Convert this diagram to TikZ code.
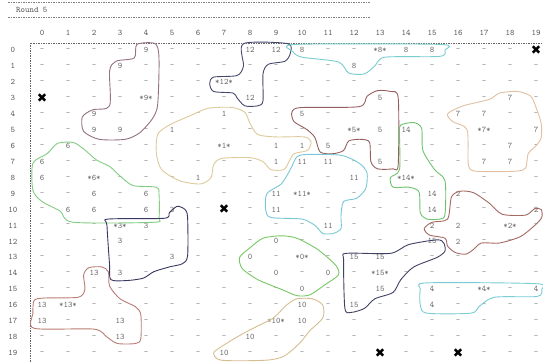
\documentclass[tikz,border=0pt]{standalone}
\usepackage{fontspec}
\newfontfamily\symfont{DejaVu Sans}
\definecolor{numgray}{RGB}{105, 105, 105}
\definecolor{rg9}{RGB}{150, 112, 132}
\definecolor{rg12}{RGB}{70, 72, 110}
\definecolor{rg8}{RGB}{120, 205, 205}
\definecolor{rg5}{RGB}{150, 95, 95}
\definecolor{rg1}{RGB}{222, 202, 155}
\definecolor{rg7}{RGB}{226, 192, 162}
\definecolor{rg14}{RGB}{110, 196, 110}
\definecolor{rg11}{RGB}{120, 200, 215}
\definecolor{rg6}{RGB}{130, 205, 130}
\definecolor{rg3}{RGB}{55, 55, 95}
\definecolor{rg2}{RGB}{165, 105, 100}
\definecolor{rg15}{RGB}{65, 65, 100}
\definecolor{rg4}{RGB}{120, 205, 215}
\definecolor{rg0}{RGB}{120, 200, 100}
\definecolor{rg13}{RGB}{185, 125, 115}
\definecolor{rg10}{RGB}{215, 190, 145}
\tikzset{
  cell/.style={font=\ttfamily\fontsize{8.5}{9}\selectfont, text=numgray, inner sep=0pt},
  axislbl/.style={cell, text=black!65},
  rule/.style={black!50, line width=0.6pt, dash pattern=on 1.5pt off 1pt},
  blob/.style={line width=0.9pt},
}
\def\crossmark{x}
\def\dashmark{-}
\newcommand\cellval[1]{\edef\celltmp{#1}%
  \ifx\celltmp\crossmark\textcolor{black}{\symfont\fontsize{12.5}{12}\selectfont ✖}%
  \else\ifx\celltmp\dashmark\textcolor{black!45}{\textendash}\else#1\fi\fi}
\newcommand\blob[2]{\draw[blob,#1] plot[smooth cycle, tension=0.45] coordinates {#2};}

\begin{document}
\begin{tikzpicture}[x=1pt, y=-1pt]
  \useasboundingbox[fill=white] (0,0) rectangle (543,363);
  % header
  \draw[rule] (8,2) -- (370,2);
  \draw[rule] (8,17) -- (370,17);
  \node[axislbl, anchor=west] (round) at (16,10) {Round 5};
  \begin{scope}[shift={(42,50)}, x=26pt, y=-15.95pt]
    \draw[rule, black!60] (-0.44,-0.44) -- (19.6,-0.44);
    \draw[rule, black!60] (-0.44,-0.44) -- (-0.44,19.8);
    \foreach \c in {0,...,19} \node[axislbl] (col-\c) at (\c,-1.07) {\c};
    \foreach \r in {0,...,19} \node[axislbl] (row-\r) at (-1.12,\r) {\r};
    % cell values
    \foreach \r/\rowvals in {
      0/{-,-,-,-,9,-,-,-,12,12,8,-,-,*8*,8,8,-,-,-,x},
      1/{-,-,-,9,-,-,-,-,-,-,-,-,8,-,-,-,-,-,-,-},
      2/{-,-,-,-,-,-,-,*12*,-,-,-,-,-,-,-,-,-,-,-,-},
      3/{x,-,-,-,*9*,-,-,-,12,-,-,-,-,5,-,-,-,-,7,-},
      4/{-,-,9,-,-,-,-,1,-,-,5,-,-,-,-,-,7,7,-,-},
      5/{-,-,9,9,-,1,-,-,-,-,-,-,*5*,5,14,-,-,*7*,-,7},
      6/{-,6,-,-,-,-,-,*1*,-,1,1,5,-,-,-,-,-,-,7,-},
      7/{6,-,-,-,-,-,-,-,-,1,11,11,-,5,-,-,-,7,7,-},
      8/{6,-,*6*,-,-,-,1,-,-,-,-,-,11,-,*14*,-,-,-,-,-},
      9/{-,-,6,-,6,-,-,-,-,11,*11*,-,-,-,-,14,2,-,-,-},
      10/{-,6,6,-,6,3,-,x,-,11,-,-,-,-,-,14,-,-,-,2},
      11/{-,-,-,*3*,3,-,-,-,-,-,-,11,-,-,-,2,2,-,*2*,-},
      12/{-,-,-,3,-,-,-,-,-,0,-,-,-,-,-,15,2,-,-,-},
      13/{-,-,-,-,-,3,-,-,0,-,*0*,-,15,15,-,-,-,-,-,-},
      14/{-,-,13,3,-,-,-,-,-,0,-,0,-,*15*,-,-,-,-,-,-},
      15/{-,-,-,-,-,-,-,-,-,-,0,-,-,15,-,4,-,*4*,-,4},
      16/{13,*13*,-,-,-,-,-,-,-,-,10,-,15,-,-,4,-,-,-,-},
      17/{13,-,-,13,-,-,-,-,-,*10*,10,-,-,-,-,-,-,-,-,-},
      18/{-,-,-,13,-,-,-,-,10,-,-,-,-,-,-,-,-,-,-,-},
      19/{-,-,-,-,-,-,-,10,-,-,-,-,-,x,-,-,x,-,-,-}}
      \foreach \v [count=\c from 0] in \rowvals
        \node[cell] (c-\r-\c) at (\c,\r) {\cellval{\v}};
    % cluster outlines
    \blob{rg9}{(3.65,-0.35) (4.35,-0.4) (4.5,0.5) (4.45,3.4) (4.25,4.3) (3.75,5.2) (3.2,5.6) (2.2,5.6) (1.6,5.1) (1.55,4.2) (1.95,3.75) (2.6,3.5) (2.6,1.3) (2.85,0.7) (3.55,0.5)}
    \blob{rg12}{(7.75,-0.4) (9.45,-0.4) (9.55,0.2) (9.35,0.7) (8.7,0.9) (8.5,1.5) (8.5,3.2) (8.3,3.5) (7.8,3.5) (7.5,3.0) (7.35,2.7) (6.6,2.6) (6.45,2.1) (6.6,1.7) (7.5,1.6) (7.75,1.0)}
    \blob{rg8}{(9.75,-0.35) (15.3,-0.35) (15.5,0.0) (15.3,0.4) (13.2,0.45) (12.8,1.0) (12.4,1.5) (11.8,1.45) (11.4,0.75) (10.0,0.45) (9.65,0.1)}
    \blob{rg5}{(9.7,3.7) (10.1,3.6) (12.2,3.55) (12.5,2.9) (12.9,2.55) (13.4,2.6) (13.7,3.0) (13.7,7.2) (13.5,7.45) (12.9,7.45) (12.65,7.0) (12.6,5.8) (12.3,5.6) (11.8,5.7) (11.6,6.3) (11.2,6.5) (10.7,6.4) (10.5,5.5) (10.2,5.0) (9.7,4.5) (9.6,4.0)}
    \blob{rg1}{(6.4,3.65) (7.3,3.6) (7.8,3.9) (8.0,4.6) (8.3,5.3) (9.0,5.45) (10.1,5.45) (10.35,5.8) (10.2,6.3) (9.7,6.5) (9.5,7.0) (9.3,7.5) (8.8,7.5) (8.5,7.0) (8.0,6.75) (6.9,6.8) (6.6,7.2) (6.5,8.0) (6.1,8.4) (5.3,8.2) (4.6,7.5) (4.4,6.5) (4.45,5.3) (4.9,4.7) (5.8,4.05)}
    \blob{rg7}{(15.6,4.0) (16.2,3.5) (17.2,3.1) (17.6,2.7) (18.3,2.6) (18.8,2.9) (19.0,3.6) (19.2,4.6) (19.2,5.5) (19.0,6.0) (18.7,6.5) (18.6,7.4) (18.2,7.6) (16.7,7.6) (16.4,7.2) (16.35,5.0) (15.8,4.5)}
    \blob{rg14}{(13.8,4.7) (14.3,4.55) (14.6,4.9) (14.65,6.3) (15.1,7.5) (15.5,8.2) (15.5,10.3) (15.3,10.6) (14.8,10.6) (14.55,10.2) (14.5,8.9) (14.1,8.6) (13.5,8.6) (13.4,8.0) (13.75,7.5) (13.75,5.2)}
    \blob{rg11}{(9.8,6.7) (10.2,6.55) (11.5,6.6) (12.2,7.1) (12.5,7.7) (12.45,8.7) (12.1,9.3) (11.6,9.5) (11.5,10.4) (11.5,11.2) (11.2,11.5) (10.8,11.5) (10.5,11.0) (10.0,10.6) (8.8,10.5) (8.6,10.0) (8.65,9.0) (9.2,8.4) (9.55,7.5)}
    \blob{rg6}{(0.6,5.85) (1.2,5.8) (1.6,6.2) (2.1,6.9) (2.6,7.3) (3.0,7.9) (3.5,8.5) (4.4,8.6) (4.5,9.0) (4.5,10.5) (4.3,10.8) (1.2,10.8) (0.7,10.1) (0.0,9.5) (-0.35,8.8) (-0.35,7.1) (0.2,6.5)}
    \blob{rg3}{(2.55,10.6) (4.7,10.55) (4.9,10.2) (5.2,9.8) (5.5,10.0) (5.6,10.5) (5.6,12.9) (5.4,13.4) (4.9,13.6) (4.3,13.9) (3.9,14.3) (3.3,14.45) (2.65,14.4) (2.6,13.5) (2.5,11.0)}
    \blob{rg2}{(15.75,9.2) (16.1,8.85) (16.6,8.95) (17.2,9.6) (17.7,10.3) (18.6,10.35) (18.95,9.95) (19.2,10.0) (19.22,10.5) (18.95,11.0) (18.4,11.7) (17.6,12.1) (16.9,12.1) (16.6,12.5) (16.3,12.8) (15.9,12.7) (15.6,12.3) (15.5,11.8) (14.9,11.6) (14.7,11.2) (15.0,10.8) (15.6,10.6)}
    \blob{rg15}{(11.7,12.75) (13.4,12.75) (14.1,12.2) (15.2,11.9) (15.45,12.1) (15.5,12.6) (15.2,13.0) (14.3,13.6) (13.8,14.4) (13.5,15.2) (12.8,15.6) (12.4,16.2) (11.9,16.45) (11.65,16.2) (11.6,13.2)}
    \blob{rg4}{(14.8,14.6) (19.0,14.65) (19.22,15.0) (19.05,15.45) (17.4,15.5) (16.8,16.1) (16.5,16.5) (14.8,16.5) (14.55,16.0) (14.55,15.0)}
    \blob{rg0}{(8.0,12.4) (8.5,11.8) (9.2,11.65) (9.8,11.8) (10.6,12.5) (11.3,13.5) (11.4,14.1) (10.9,14.7) (10.3,15.35) (9.8,15.4) (9.2,15.0) (8.3,14.4) (7.7,13.7) (7.6,13.0)}
    \blob{rg13}{(1.8,13.65) (2.3,13.6) (2.55,13.9) (2.6,14.8) (3.0,15.6) (3.6,16.1) (3.8,16.6) (3.8,18.1) (3.6,18.4) (2.9,18.4) (2.5,18.0) (2.0,17.5) (-0.3,17.45) (-0.35,16.5) (-0.3,15.7) (0.1,15.55) (1.4,15.5) (1.65,15.0) (1.6,14.1)}
    \blob{rg10}{(6.6,19.0) (6.9,18.6) (7.6,17.9) (8.3,17.3) (8.9,16.8) (9.4,16.0) (9.8,15.6) (10.4,15.6) (10.8,16.0) (10.8,16.8) (10.3,17.6) (9.9,18.4) (9.3,19.2) (8.6,19.45) (6.9,19.45)}
  \end{scope}
\end{tikzpicture}
\end{document}
